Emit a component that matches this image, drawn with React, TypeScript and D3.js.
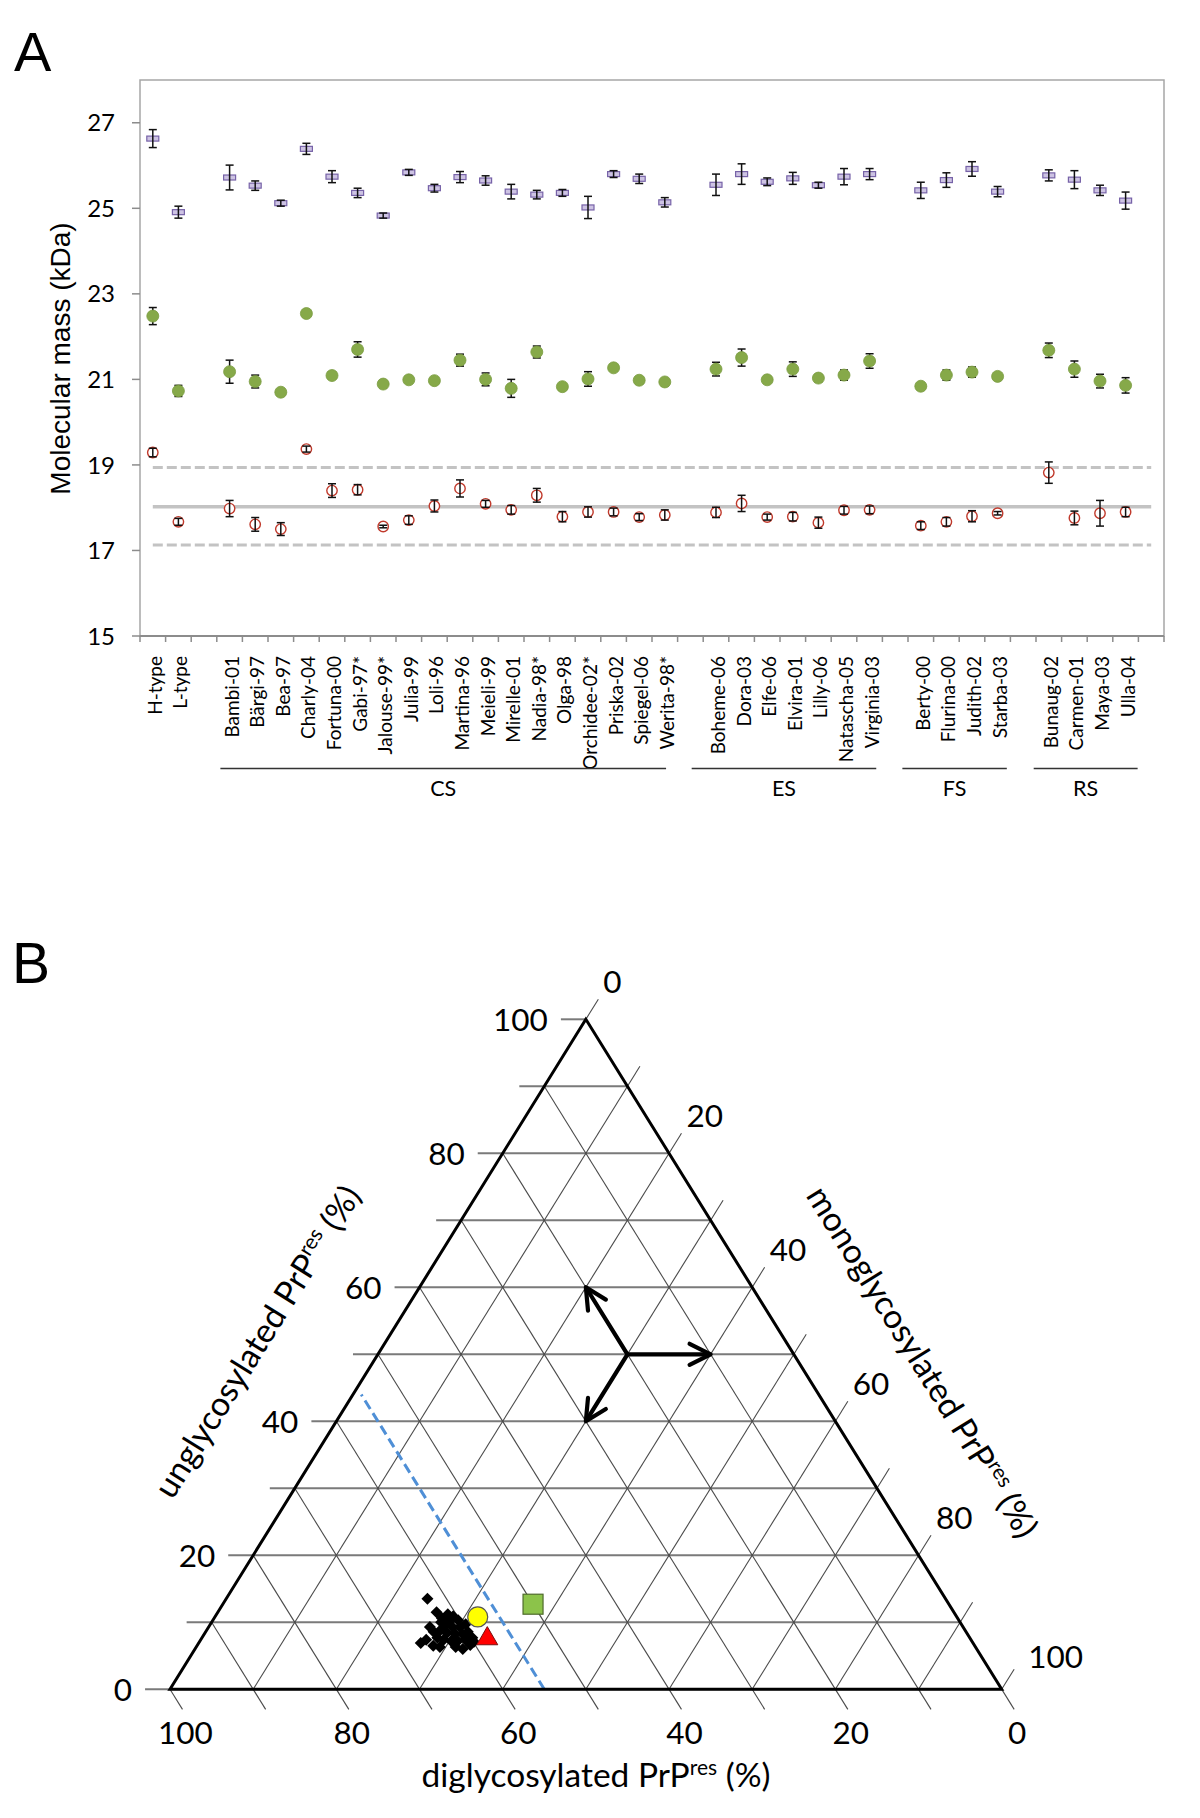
import React from "react";
import * as d3 from "d3";

// ---------- Panel A data ----------
const categories: string[] = [
  "H-type", "L-type", "",
  "Bambi-01", "Bärgi-97", "Bea-97", "Charly-04", "Fortuna-00", "Gabi-97*", "Jalouse-99*", "Julia-99", "Loli-96",
  "Martina-96", "Meieli-99", "Mirelle-01", "Nadia-98*", "Olga-98", "Orchidee-02*", "Priska-02", "Spiegel-06", "Werita-98*", "",
  "Boheme-06", "Dora-03", "Elfe-06", "Elvira-01", "Lilly-06", "Natascha-05", "Virginia-03", "",
  "Berty-00", "Flurina-00", "Judith-02", "Starba-03", "",
  "Bunaug-02", "Carmen-01", "Maya-03", "Ulla-04", "",
];

const massHigh: (number | null)[] = [
  26.63, 24.91, null, 25.72, 25.53, 25.12, 26.39, 25.74, 25.36, 24.83, 25.84, 25.47, 25.73, 25.65, 25.39, 25.32, 25.36, 25.02,
  25.8, 25.69, 25.14, null, 25.55, 25.8, 25.62, 25.7, 25.54, 25.74, 25.8, null, 25.42, 25.66, 25.92, 25.39, null,
  25.77, 25.67, 25.42, 25.18, null,
];
const errHigh: (number | null)[] = [
  0.21, 0.14, null, 0.29, 0.11, 0.07, 0.13, 0.14, 0.11, 0.06, 0.07, 0.09, 0.13, 0.11, 0.17, 0.1, 0.08, 0.26,
  0.08, 0.11, 0.11, null, 0.25, 0.24, 0.09, 0.14, 0.07, 0.19, 0.13, null, 0.19, 0.17, 0.17, 0.12, null,
  0.13, 0.21, 0.12, 0.2, null,
];
const massMid: (number | null)[] = [
  22.48, 20.73, null, 21.18, 20.95, 20.7, 22.54, 21.09, 21.7, 20.89, 20.99, 20.97, 21.45, 21.0, 20.79, 21.64, 20.83, 21.01,
  21.27, 20.98, 20.94, null, 21.24, 21.51, 20.99, 21.24, 21.03, 21.1, 21.43, null, 20.84, 21.1, 21.17, 21.07, null,
  21.68, 21.24, 20.96, 20.86, null,
];
const errMid: (number | null)[] = [
  0.2, 0.13, null, 0.27, 0.15, 0.04, 0.06, 0.06, 0.18, 0.03, 0.07, 0.06, 0.14, 0.15, 0.21, 0.14, 0.04, 0.17,
  0.04, 0.08, 0.05, null, 0.16, 0.2, 0.04, 0.17, 0.08, 0.12, 0.17, null, 0.07, 0.12, 0.12, 0.04, null,
  0.17, 0.19, 0.16, 0.18, null,
];
const massLow: (number | null)[] = [
  19.29, 17.67, null, 17.98, 17.61, 17.5, 19.37, 18.4, 18.42, 17.56, 17.71, 18.04, 18.45, 18.09, 17.95, 18.29, 17.79, 17.9,
  17.9, 17.78, 17.83, null, 17.89, 18.1, 17.78, 17.79, 17.65, 17.94, 17.95, null, 17.58, 17.67, 17.8, 17.87, null,
  18.82, 17.76, 17.87, 17.9, null,
];
const errLow: (number | null)[] = [
  0.1, 0.08, null, 0.19, 0.16, 0.15, 0.07, 0.16, 0.12, 0.03, 0.1, 0.14, 0.2, 0.08, 0.1, 0.16, 0.12, 0.12,
  0.09, 0.08, 0.12, null, 0.12, 0.19, 0.07, 0.1, 0.13, 0.09, 0.09, null, 0.09, 0.1, 0.13, 0.04, null,
  0.25, 0.16, 0.3, 0.11, null,
];
const refMean = 18.02;
const refUpper = 18.94;
const refLower = 17.13;
const yTicks = [15, 17, 19, 21, 23, 25, 27];
const groupNames = ["CS", "ES", "FS", "RS"];
// group underline span, in category-slot units
const groupSpanStart = [3.14, 21.55, 29.78, 34.91];
const groupSpanEnd = [20.55, 28.76, 33.86, 38.97];

// ---------- Panel B data (percent unglycosylated, percent monoglycosylated) ----------
const strainUngly = [
  13.5, 11.5, 10.6, 11.2, 10.9, 10.3, 9.6, 9.3, 9.3, 9.7, 8.8, 8.4, 8.3, 8.3, 8.6, 7.7, 7.4, 7.2, 7.2, 7.4, 7.7,
  7.4, 6.9, 6.5, 6.3, 6.3, 6.0, 6.6, 7.1, 10.0, 10.0, 8.6, 9.3,
];
const strainMono = [
  24.2, 26.3, 27.4, 27.8, 28.6, 29.5, 28.3, 29.3, 30.2, 30.7, 28.1, 29.1, 30.1, 31.0, 31.5, 28.3, 29.2, 30.2, 31.0, 31.8, 32.5,
  27.1, 26.7, 28.4, 29.3, 31.2, 32.2, 32.8, 33.0, 28.5, 27.6, 27.4, 26.6,
];
const circlePoint = [10.8, 31.6]; // yellow circle
const trianglePoint = [7.7, 34.3]; // red triangle
const squarePoint = [12.7, 37.3]; // green square
const cutoffDi = 55; // blue dashed line, constant diglycosylated %
const cutoffTopUngly = 44;
const arrowCenter = [50, 30];
const arrowEnds = [[50, 40], [60, 20], [40, 30]];
const ternaryGrid = d3.range(0, 101, 10);
const ternaryLabels = [0, 20, 40, 60, 80, 100];

const LATO = "Lato, 'Open Sans', sans-serif";
const ARIAL = "'Liberation Sans', Arial, sans-serif";

function PanelA() {
  const x = d3.scaleBand<number>().domain(d3.range(categories.length)).range([140, 1164]);
  const y = d3.scaleLinear().domain([15, 28]).range([636, 80]);
  const bw = x.bandwidth();
  const cx = (i: number) => (x(i) as number) + bw / 2;
  const slot = d3.scaleLinear().domain([0, categories.length]).range([140, 1164]);
  const [y0] = y.range();

  const errBars = (vals: (number | null)[], errs: (number | null)[], key: string) =>
    vals.map((v, i) => {
      if (v == null) return null;
      const e = errs[i] as number;
      const X = cx(i);
      return (
        <g key={key + i} stroke="#111" strokeWidth={1.5}>
          <line x1={X} x2={X} y1={y(v + e)} y2={y(v - e)} />
          <line x1={X - 4} x2={X + 4} y1={y(v + e)} y2={y(v + e)} />
          <line x1={X - 4} x2={X + 4} y1={y(v - e)} y2={y(v - e)} />
        </g>
      );
    });

  const refLine = (v: number, dashed: boolean, key: string) => (
    <line
      key={key}
      x1={cx(0)}
      x2={cx(categories.length - 1)}
      y1={y(v)}
      y2={y(v)}
      stroke="#c3c3c3"
      strokeWidth={dashed ? 3 : 3.5}
      strokeDasharray={dashed ? "10,4" : undefined}
    />
  );

  return (
    <g>
      <text x={14} y={71} fontFamily={ARIAL} fontSize={56} fill="#000">A</text>
      <rect x={140} y={80} width={1024} height={556} fill="none" stroke="#a6a6a6" strokeWidth={1.5} />
      <line x1={140} x2={1164} y1={y0} y2={y0} stroke="#8c8c8c" strokeWidth={2} />
      {d3.range(categories.length + 1).map((i) => {
        const X = slot(i);
        return <line key={"xt" + i} x1={X} x2={X} y1={y0} y2={y0 + 6} stroke="#8c8c8c" strokeWidth={1.5} />;
      })}
      {yTicks.map((t) => (
        <g key={"yt" + t}>
          <line x1={132} x2={140} y1={y(t)} y2={y(t)} stroke="#8c8c8c" strokeWidth={1.5} />
          <text x={115} y={y(t)} dy="0.36em" textAnchor="end" fontFamily={LATO} fontSize={24} fill="#000">
            {t}
          </text>
        </g>
      ))}
      <text
        transform={`translate(70,${(y(15) + y(28)) / 2 + 0.5}) rotate(-90)`}
        textAnchor="middle"
        fontFamily={ARIAL}
        fontSize={28}
        fill="#000"
      >
        Molecular mass (kDa)
      </text>

      {refLine(refUpper, true, "ru")}
      {refLine(refMean, false, "rm")}
      {refLine(refLower, true, "rl")}

      {/* top band: dash markers */}
      {massHigh.map((v, i) =>
        v == null ? null : (
          <rect key={"hm" + i} x={cx(i) - 6} y={y(v) - 2.5} width={12} height={5} fill="#cdc3e3" stroke="#7763a8" strokeWidth={1.2} />
        )
      )}
      {errBars(massHigh, errHigh, "he")}

      {/* middle band: green dots */}
      {errBars(massMid, errMid, "me")}
      {massMid.map((v, i) =>
        v == null ? null : <circle key={"mm" + i} cx={cx(i)} cy={y(v)} r={6} fill="#86a949" stroke="#7a9c40" strokeWidth={0.8} />
      )}

      {/* low band: open red circles */}
      {massLow.map((v, i) =>
        v == null ? null : <circle key={"lm" + i} cx={cx(i)} cy={y(v)} r={5.2} fill="#fff" stroke="#c0392b" strokeWidth={1.4} />
      )}
      {errBars(massLow, errLow, "le")}

      {categories.map((c, i) =>
        c === "" ? null : (
          <text
            key={"cl" + i}
            transform={`translate(${cx(i) + 9},656) rotate(-90)`}
            textAnchor="end"
            fontFamily={LATO}
            fontSize={19}
            fill="#000"
          >
            {c}
          </text>
        )
      )}
      {groupNames.map((g, k) => {
        const xs = slot(groupSpanStart[k]);
        const xe = slot(groupSpanEnd[k]);
        return (
          <g key={"g" + g}>
            <line x1={xs} x2={xe} y1={768.5} y2={768.5} stroke="#333" strokeWidth={1.3} />
            <text x={(xs + xe) / 2} y={796} textAnchor="middle" fontFamily={LATO} fontSize={21.5} fill="#000">
              {g}
            </text>
          </g>
        );
      })}
    </g>
  );
}

function PanelB() {
  const tx = d3.scaleLinear().domain([0, 100]).range([170, 1001.7]);
  const ty = d3.scaleLinear().domain([0, 100]).range([1689.3, 1019.3]);
  // u = unglycosylated %, m = monoglycosylated %
  const P = (u: number, m: number): [number, number] => [tx(m + u / 2), ty(u)];
  const ext = 3;
  const angle = (Math.atan2(ty(100) - ty(0), tx(50) - tx(0)) * 180) / Math.PI;

  const seg = (a: [number, number], b: [number, number], key: string, stroke: string, w: number, dash?: string) => (
    <line key={key} x1={a[0]} y1={a[1]} x2={b[0]} y2={b[1]} stroke={stroke} strokeWidth={w} strokeDasharray={dash} />
  );

  const arrow = (from: [number, number], to: [number, number], key: string) => {
    const dx = to[0] - from[0];
    const dy = to[1] - from[1];
    const L = Math.hypot(dx, dy);
    const ux = dx / L;
    const uy = dy / L;
    const hl = 21;
    const hw = 10.5;
    const bx = to[0] - ux * hl;
    const by = to[1] - uy * hl;
    const p1 = [bx - uy * hw, by + ux * hw];
    const p2 = [bx + uy * hw, by - ux * hw];
    return (
      <g key={key} stroke="#000" strokeWidth={4.2} fill="none" strokeLinecap="round" strokeLinejoin="round">
        <line x1={from[0]} y1={from[1]} x2={to[0] - ux * 2} y2={to[1] - uy * 2} />
        <polyline points={`${p1[0]},${p1[1]} ${to[0]},${to[1]} ${p2[0]},${p2[1]}`} />
      </g>
    );
  };

  const apex = P(100, 0);
  const bl = P(0, 0);
  const br = P(0, 100);
  const diamond = d3.symbol(d3.symbolSquare, 72)();
  const tri = d3.symbol(d3.symbolTriangle, 190)();
  const c = P(arrowCenter[0], arrowCenter[1]);
  const cutA = P(0, 100 - cutoffDi);
  const cutB = P(cutoffTopUngly, 100 - cutoffDi - cutoffTopUngly);
  const sq = P(squarePoint[0], squarePoint[1]);
  const yc = P(circlePoint[0], circlePoint[1]);
  const tr = P(trianglePoint[0], trianglePoint[1]);
  const TICK_FS = 31.5;
  const TITLE_FS = 33.5;

  return (
    <g>
      <text x={12} y={983} fontFamily={ARIAL} fontSize={57} fill="#000">B</text>
      {/* constant unglycosylated: horizontal lines + left ticks */}
      {ternaryGrid.map((k) => seg(P(k, -ext), P(k, 100 - k), "hu" + k, "#7a7a7a", 2))}
      {/* constant mono: parallel to left edge, ticks up-right beyond right edge */}
      {ternaryGrid.map((k) => seg(P(0, k), P(100 - k + ext, k), "dm" + k, "#4a4a4a", 1.1))}
      {/* constant di: parallel to right edge, ticks below base */}
      {ternaryGrid.map((k) => seg(P(-ext, 100 - k + ext), P(100 - k, 0), "dd" + k, "#4a4a4a", 1.1))}

      {seg(cutA, cutB, "cut", "#4f8fd6", 3, "10,5")}

      <polygon
        points={`${apex[0]},${apex[1]} ${bl[0]},${bl[1]} ${br[0]},${br[1]}`}
        fill="none"
        stroke="#000"
        strokeWidth={3}
        strokeLinejoin="miter"
      />

      {ternaryLabels.map((k) => {
        const p = P(k, -ext);
        return (
          <text key={"lu" + k} x={p[0] - 13} y={p[1]} dy="0.36em" textAnchor="end" fontFamily={LATO} fontSize={TICK_FS} fill="#000">
            {k}
          </text>
        );
      })}
      {ternaryLabels.map((k) => {
        const p = P(100 - k + ext, k);
        const extra = k === 100 ? 9 : 0;
        return (
          <text
            key={"lm" + k}
            x={p[0] + 5 + extra}
            y={p[1] - 6 + extra / 2}
            textAnchor="start"
            fontFamily={LATO}
            fontSize={TICK_FS}
            fill="#000"
          >
            {k}
          </text>
        );
      })}
      {ternaryLabels.map((k) => {
        const p = P(-ext, 100 - k + ext);
        return (
          <text key={"ld" + k} x={p[0] + 3} y={p[1] + 35} textAnchor="middle" fontFamily={LATO} fontSize={TICK_FS} fill="#000">
            {k}
          </text>
        );
      })}

      <text transform={`translate(267.4,1347.8) rotate(${angle})`} textAnchor="middle" fontFamily={LATO} fontSize={TITLE_FS} fill="#000">
        unglycosylated PrP<tspan dy={-12} fontSize={21}>res</tspan>
        <tspan dy={12}> (%)</tspan>
      </text>
      <text transform={`translate(912.4,1368) rotate(${-angle})`} textAnchor="middle" fontFamily={LATO} fontSize={TITLE_FS} fill="#000">
        monoglycosylated PrP<tspan dy={-12} fontSize={21}>res</tspan>
        <tspan dy={12}> (%)</tspan>
      </text>
      <text x={596} y={1787} textAnchor="middle" fontFamily={LATO} fontSize={TITLE_FS} fill="#000">
        diglycosylated PrP<tspan dy={-12} fontSize={21}>res</tspan>
        <tspan dy={12}> (%)</tspan>
      </text>

      {arrowEnds.map((e, i) => arrow(c, P(e[0], e[1]), "ar" + i))}

      {strainUngly.map((u, i) => {
        const p = P(u, strainMono[i]);
        return <path key={"dm" + i} d={diamond as string} transform={`translate(${p[0]},${p[1]}) rotate(45)`} fill="#000" />;
      })}
      <circle cx={yc[0]} cy={yc[1]} r={10} fill="#ffff00" stroke="#555" strokeWidth={1.2} />
      <path d={tri as string} transform={`translate(${tr[0]},${tr[1] + 1})`} fill="#ff0000" stroke="#7a1010" strokeWidth={1} />
      <rect x={sq[0] - 10} y={sq[1] - 10} width={20} height={20} fill="#8cc34a" stroke="#4f6b2c" strokeWidth={1.2} />
    </g>
  );
}

export default function App() {
  return (
    <svg
      width={1200}
      height={1818}
      viewBox="0 0 1200 1818"
      style={{ position: "absolute", left: 0, top: 0, display: "block", background: "#fff" }}
    >
      <rect x={0} y={0} width={1200} height={1818} fill="#fff" />
      <PanelA />
      <PanelB />
    </svg>
  );
}
